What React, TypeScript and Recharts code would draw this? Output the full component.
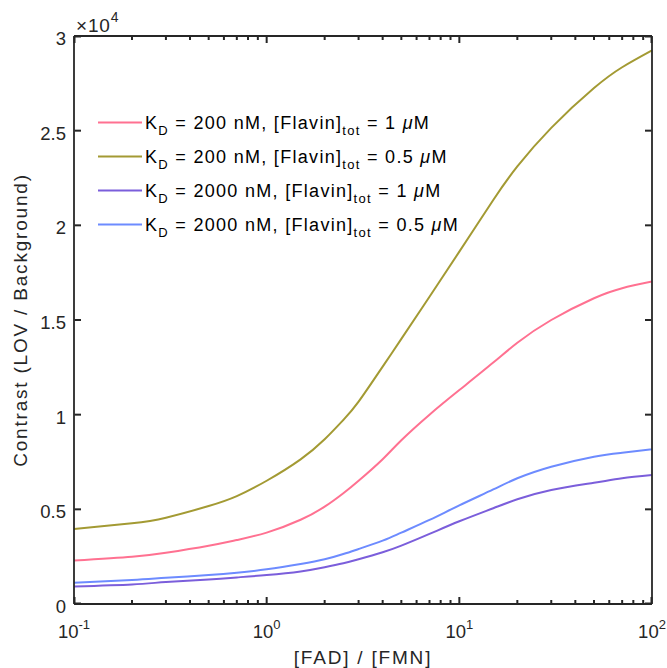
import React from "react";
import {
  LineChart,
  Line,
  XAxis,
  YAxis,
  Legend,
  Label,
  ReferenceLine,
} from "recharts";

// values
const ratio = [0.1, 0.2, 0.3, 0.5, 0.7, 1, 1.5, 2, 2.5, 3, 4, 5, 7, 10, 15, 20, 30, 50, 70, 100];
const kd200Flavin1 = [2300, 2500, 2710, 3080, 3380, 3770, 4450, 5140, 5850, 6510, 7650, 8650, 10000, 11300, 12750, 13800, 15000, 16150, 16680, 17030];
const kd200Flavin05 = [3960, 4260, 4560, 5175, 5700, 6510, 7640, 8700, 9720, 10690, 12540, 14000, 16230, 18610, 21340, 23110, 25150, 27250, 28350, 29240];
const kd2000Flavin1 = [930, 1035, 1160, 1300, 1405, 1530, 1720, 1940, 2150, 2360, 2730, 3080, 3700, 4370, 5060, 5530, 6020, 6405, 6640, 6810];
const kd2000Flavin05 = [1120, 1265, 1385, 1530, 1650, 1830, 2110, 2360, 2640, 2905, 3345, 3770, 4440, 5210, 6050, 6640, 7250, 7780, 7990, 8170];

const kdLabels = ["200", "200", "2000", "2000"];
const flavinLabels = ["1", "0.5", "1", "0.5"];
const seriesKeys = ["a", "b", "c", "d"];
const seriesColors = ["#ff7191", "#a39a33", "#7b5edb", "#6d8bff"];

const yTicks = [0, 5000, 10000, 15000, 20000, 25000, 30000];
const majorTicks = [0.1, 1, 10, 100];
const minorTicks = [
  0.2, 0.3, 0.4, 0.5, 0.6, 0.7, 0.8, 0.9,
  2, 3, 4, 5, 6, 7, 8, 9,
  20, 30, 40, 50, 60, 70, 80, 90,
];

const data = ratio.map((x, i) => ({
  x,
  a: kd200Flavin1[i],
  b: kd200Flavin05[i],
  c: kd2000Flavin1[i],
  d: kd2000Flavin05[i],
}));

const FONT = '"Liberation Sans", Arial, Helvetica, sans-serif';
const INK = "#262626";

// plot box size in px, used to turn tick lengths into data units
const PLOT_W = 578;
const PLOT_H = 568;
const Y_MAX = 30000;
const X_MIN = 0.1;
const X_MAX = 100;
const yLen = (px: number) => (Y_MAX * px) / PLOT_H;
const xFactor = (px: number) => Math.pow(10, (3 * px) / PLOT_W);
// tick marks start a hair inside the box so they are not dropped at the edge
const IN = 0.5;

const BottomTick = (props: any) => {
  const { x, y, payload } = props;
  return (
    <text x={x} y={y + 34} textAnchor="middle" fontSize={18.5} fill={INK} fontFamily={FONT}>
      10
      <tspan dy={-9} fontSize={13}>
        {Math.round(Math.log10(payload.value))}
      </tspan>
    </text>
  );
};

const LeftTick = (props: any) => {
  const { x, y, payload } = props;
  return (
    <text x={x - 8} y={y + 9} textAnchor="end" fontSize={18.5} fill={INK} fontFamily={FONT}>
      {payload.value / 10000}
    </text>
  );
};

const renderLegend = () => (
  <svg width={500} height={250} style={{ display: "block" }}>
    {seriesKeys.map((k, i) => {
      const cy = 122.5 + i * 34;
      return (
        <g key={k}>
          <line x1={98} x2={142} y1={cy} y2={cy} stroke={seriesColors[i]} strokeWidth={2} />
          <text x={145} y={cy + 6} fontSize={18} letterSpacing={1.3} fill="#000" fontFamily={FONT}>
            K
            <tspan dy={6} fontSize={13}>D</tspan>
            <tspan dy={-6}>{` = ${kdLabels[i]} nM, [Flavin]`}</tspan>
            <tspan dy={6} fontSize={13}>tot</tspan>
            <tspan dy={-6}>{` = ${flavinLabels[i]} `}</tspan>
            <tspan fontStyle="italic">μ</tspan>
            <tspan>M</tspan>
          </text>
        </g>
      );
    })}
  </svg>
);

const logAxis = {
  dataKey: "x",
  type: "number" as const,
  scale: "log" as const,
  domain: [X_MIN, X_MAX],
  allowDataOverflow: true,
  interval: 0,
  tickSize: 0,
  tickMargin: 0,
  tickLine: false,
  stroke: INK,
  axisLine: { stroke: INK, strokeWidth: 1.8 },
};

const tickSeg = { stroke: INK, strokeWidth: 2 };
// keep x of the edge ticks strictly inside the domain
const clampX = (v: number) => Math.min(Math.max(v, X_MIN * xFactor(IN)), X_MAX / xFactor(IN));

const App: React.FC = () => {
  return (
    <div style={{ position: "absolute", left: 0, top: 0, background: "#fff" }}>
      <LineChart
        width={667}
        height={668}
        data={data}
        margin={{ top: 26, right: 5, bottom: 34, left: 14 }}
      >
        <XAxis {...logAxis} ticks={majorTicks} height={30} tick={<BottomTick />}>
          <Label
            content={() => (
              <text
                x={363}
                y={664}
                textAnchor="middle"
                fontSize={19}
                letterSpacing={1.8}
                fill={INK}
                fontFamily={FONT}
              >
                [FAD] / [FMN]
              </text>
            )}
          />
        </XAxis>
        <XAxis {...logAxis} xAxisId="top" orientation="top" ticks={majorTicks} height={10} tick={false}>
          <Label
            content={() => (
              <text x={76} y={32} fontSize={19} letterSpacing={0.8} fill={INK} fontFamily={FONT}>
                ×10
                <tspan dy={-10} fontSize={14}>4</tspan>
              </text>
            )}
          />
        </XAxis>
        <YAxis
          type="number"
          domain={[0, Y_MAX]}
          ticks={yTicks}
          interval={0}
          width={60}
          tickSize={0}
          tickMargin={0}
          stroke={INK}
          tickLine={false}
          tick={<LeftTick />}
          axisLine={{ stroke: INK, strokeWidth: 1.8 }}
        >
          <Label
            content={() => (
              <text
                x={27}
                y={320}
                textAnchor="middle"
                transform="rotate(-90, 27, 320)"
                fontSize={19}
                letterSpacing={1.8}
                fill={INK}
                fontFamily={FONT}
              >
                Contrast (LOV / Background)
              </text>
            )}
          />
        </YAxis>
        <YAxis
          yAxisId="right"
          orientation="right"
          type="number"
          domain={[0, Y_MAX]}
          ticks={yTicks}
          width={10}
          tickLine={false}
          tick={false}
          stroke={INK}
          axisLine={{ stroke: INK, strokeWidth: 1.8 }}
        />

        {/* inward tick marks (MATLAB style box) */}
        {majorTicks.map((v) => (
          <ReferenceLine
            key={`bM${v}`}
            {...tickSeg}
            segment={[{ x: clampX(v), y: yLen(IN) }, { x: clampX(v), y: yLen(7) }]}
          />
        ))}
        {majorTicks.map((v) => (
          <ReferenceLine
            key={`tM${v}`}
            {...tickSeg}
            segment={[{ x: clampX(v), y: Y_MAX - yLen(IN) }, { x: clampX(v), y: Y_MAX - yLen(7) }]}
          />
        ))}
        {minorTicks.map((v) => (
          <ReferenceLine key={`bm${v}`} {...tickSeg} segment={[{ x: v, y: yLen(IN) }, { x: v, y: yLen(4) }]} />
        ))}
        {minorTicks.map((v) => (
          <ReferenceLine
            key={`tm${v}`}
            {...tickSeg}
            segment={[{ x: v, y: Y_MAX - yLen(IN) }, { x: v, y: Y_MAX - yLen(4) }]}
          />
        ))}
        {yTicks.map((v) => {
          const y = Math.min(Math.max(v, yLen(IN)), Y_MAX - yLen(IN));
          return (
            <ReferenceLine
              key={`l${v}`}
              {...tickSeg}
              segment={[{ x: X_MIN * xFactor(IN), y }, { x: X_MIN * xFactor(7), y }]}
            />
          );
        })}
        {yTicks.map((v) => {
          const y = Math.min(Math.max(v, yLen(IN)), Y_MAX - yLen(IN));
          return (
            <ReferenceLine
              key={`r${v}`}
              {...tickSeg}
              segment={[{ x: X_MAX / xFactor(IN), y }, { x: X_MAX / xFactor(7), y }]}
            />
          );
        })}

        <Legend
          layout="vertical"
          align="center"
          verticalAlign="middle"
          content={renderLegend}
          wrapperStyle={{ left: 0, top: 0, width: 500, height: 250 }}
        />
        {seriesKeys.map((k, i) => (
          <Line
            key={k}
            dataKey={k}
            type="natural"
            stroke={seriesColors[i]}
            strokeWidth={2}
            dot={false}
            isAnimationActive={false}
          />
        ))}
      </LineChart>
    </div>
  );
};

export default App;
